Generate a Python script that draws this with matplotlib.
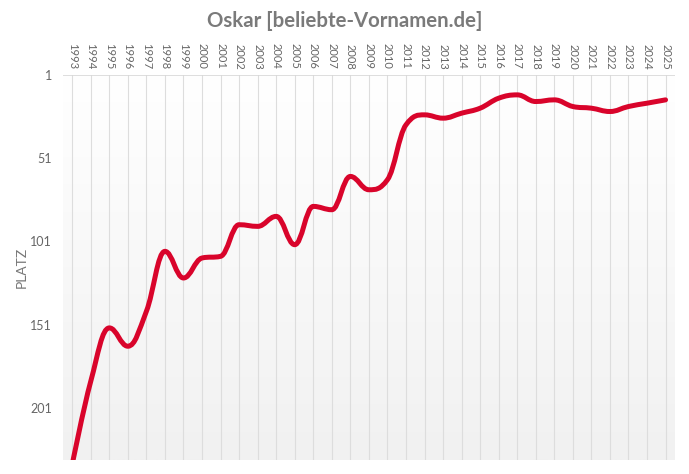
import numpy as np
import matplotlib.pyplot as plt
from matplotlib.path import Path
from matplotlib.patches import PathPatch
from matplotlib.colors import LinearSegmentedColormap

# Platzierung des Namens Oskar pro Jahr
jahre = list(range(1993, 2026))
platz = [235, 185, 153, 164, 143, 107, 123, 111, 110, 91, 92, 86, 103, 80, 82,
         62, 70, 64, 31, 25, 27, 24, 21, 15, 13, 17, 16, 20, 21, 23, 20, 18, 16]
y_ticks = [1, 51, 101, 151, 201]

LINIE = '#d9042b'
GRAU = '#666666'


def spline_pfad(xs, ys, smoothing=1.5):
    # Spline wie bei Highcharts: Kontrollpunkte aus den Nachbarn
    n = len(xs)
    verts = [(xs[0], ys[0])]
    codes = [Path.MOVETO]
    ctrl = []
    for i in range(n):
        if i == 0 or i == n - 1:
            ctrl.append(((xs[i], ys[i]), (xs[i], ys[i])))
            continue
        d = smoothing + 1
        lx = (smoothing * xs[i] + xs[i - 1]) / d
        ly = (smoothing * ys[i] + ys[i - 1]) / d
        rx = (smoothing * xs[i] + xs[i + 1]) / d
        ry = (smoothing * ys[i] + ys[i + 1]) / d
        korr = ((ry - ly) * (rx - xs[i])) / (rx - lx) + ys[i] - ry
        ly += korr
        ry += korr
        if ly > ys[i - 1] and ly > ys[i]:
            ly = max(ys[i - 1], ys[i])
            ry = 2 * ys[i] - ly
        elif ly < ys[i - 1] and ly < ys[i]:
            ly = min(ys[i - 1], ys[i])
            ry = 2 * ys[i] - ly
        if ry > ys[i + 1] and ry > ys[i]:
            ry = max(ys[i + 1], ys[i])
            ly = 2 * ys[i] - ry
        elif ry < ys[i + 1] and ry < ys[i]:
            ry = min(ys[i + 1], ys[i])
            ly = 2 * ys[i] - ry
        ctrl.append(((lx, ly), (rx, ry)))
    for i in range(1, n):
        verts += [ctrl[i - 1][1], ctrl[i][0], (xs[i], ys[i])]
        codes += [Path.CURVE4] * 3
    return Path(verts, codes)


fig = plt.figure(figsize=(6.89, 4.74), dpi=100)
ax = fig.add_axes([0.0914, 0.029, 0.888, 0.813])

ax.set_xlim(1992.5, 2025.5)
ax.set_ylim(232.5, 1)

# Hintergrundverlauf weiss -> hellgrau
grad = np.linspace(0, 1, 256).reshape(-1, 1)
ax.imshow(grad, aspect='auto', extent=(1992.5, 2025.5, 232.5, 1),
          cmap=LinearSegmentedColormap.from_list('bg', ['#ffffff', '#f1f1f1']),
          zorder=0)

for j in jahre:
    ax.axvline(j, color='#dddddd', lw=0.8, zorder=1)
ax.axhline(1, color='#d8d8d8', lw=1.2, zorder=1)

patch = PathPatch(spline_pfad(jahre, platz), facecolor='none', edgecolor=LINIE,
                  lw=3.6, capstyle='round', joinstyle='round', zorder=3)
ax.add_patch(patch)

ax.xaxis.tick_top()
ax.set_xticks(jahre)
ax.set_xticklabels([str(j) for j in jahre], rotation=-90, fontsize=8,
                   color=GRAU, family='Lato')
ax.set_yticks(y_ticks)
ax.set_yticklabels([str(t) for t in y_ticks], fontsize=9, color=GRAU, family='Lato')
ax.tick_params(length=0, pad=4)
ax.tick_params(axis='y', pad=8)
for s in ax.spines.values():
    s.set_visible(False)

ax.set_ylabel('PLATZ', fontsize=10, color='#777777', family='Lato')
ax.yaxis.set_label_coords(-0.058, 0.5)
fig.text(0.5, 0.955, 'Oskar [beliebte-Vornamen.de]', ha='center', va='center',
         fontsize=14.7, fontweight='bold', color='#7a7a7a', family='Lato')

fig.savefig('out.png', dpi=100)
